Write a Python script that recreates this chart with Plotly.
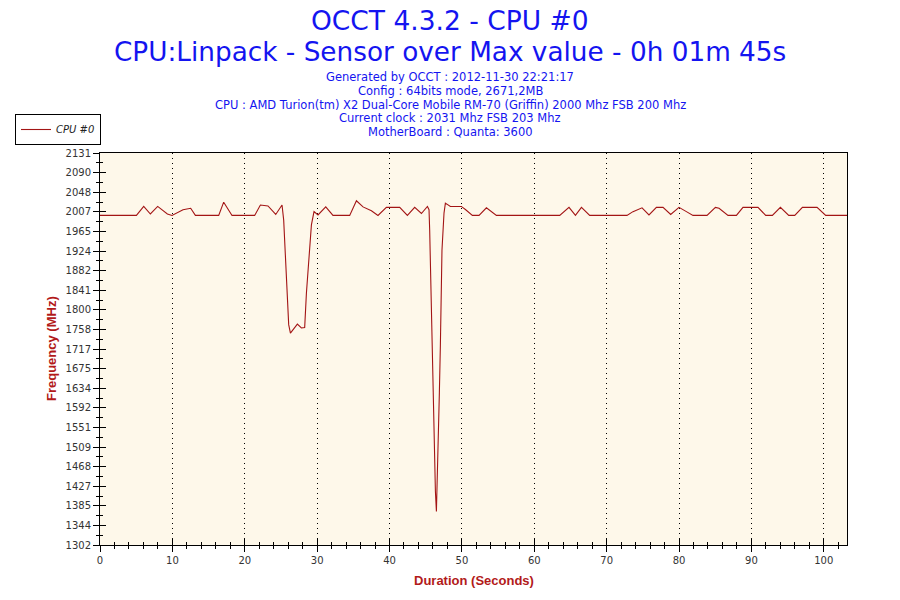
import numpy as np
import plotly.graph_objects as go

# ---- data ----
time_s = [0, 5.03, 6.04, 6.96, 7.97, 9.31, 9.95, 11.47, 12.53, 13.18, 16.40, 17.09, 18.24,
          21.37, 22.16, 23.21, 24.28, 25.15, 25.38, 25.62, 25.84, 26.07, 26.31, 27.27, 27.83,
          28.28, 28.52, 28.88, 29.21, 29.57, 30.12, 31.19, 32.19, 34.50, 35.43, 36.34, 37.50,
          38.41, 39.57, 41.41, 42.47, 43.48, 44.41, 45.24, 45.46, 45.55, 45.69, 45.87, 46.01,
          46.15, 46.34, 46.48, 46.62, 46.76, 46.89, 47.03, 47.25, 47.53, 47.72, 48.41, 49.93,
          50.53, 51.45, 52.37, 53.39, 54.77, 63.52, 64.80, 65.69, 66.52, 67.66, 72.81, 73.64,
          74.89, 75.85, 76.88, 77.79, 78.85, 80.00, 81.02, 81.93, 83.87, 85.03, 85.53, 86.77,
          87.93, 88.84, 90.91, 91.98, 92.90, 94.01, 95.16, 95.99, 97.05, 99.07, 100.27, 103.21]
cpu0_mhz = [1999, 1999, 2018, 2002, 2018, 2002, 1999, 2011, 2014, 1999, 1999, 2027, 1999,
            1999, 2021, 2019, 2001, 2021, 1989, 1919, 1838, 1768, 1750, 1769, 1761,
            1762, 1835, 1912, 1979, 2007, 2000, 2017, 1999, 1999, 2030, 2017, 2009,
            1999, 2016, 2016, 1999, 2016, 2003, 2018, 2011, 1968, 1873, 1683, 1592,
            1498, 1416, 1373, 1445, 1533, 1624, 1726, 1926, 2004, 2025, 2018, 2018,
            2011, 1999, 1999, 2015, 1999, 1999, 2016, 1999, 2016, 1999, 1999, 2007,
            2015, 2000, 2016, 2016, 2001, 2016, 2007, 1999, 1999, 2016, 2014, 1999,
            1999, 2016, 2016, 1999, 1999, 2016, 1999, 1999, 2016, 2016, 1999, 1999]

y_tick_labels = ["1302", "1344", "1385", "1427", "1468", "1509", "1551", "1592", "1634",
                 "1675", "1717", "1758", "1800", "1841", "1882", "1924", "1965", "2007",
                 "2048", "2090", "2131"]
x_tick_vals = [0, 10, 20, 30, 40, 50, 60, 70, 80, 90, 100]
x_range = [0, 103.21]
y_range = [1302, 2131]

title1 = "OCCT 4.3.2 - CPU #0"
title2 = "CPU:Linpack - Sensor over Max value - 0h 01m 45s"
info_lines = ["Generated by OCCT : 2012-11-30 22:21:17",
              "Config : 64bits mode, 2671,2MB",
              "CPU : AMD Turion(tm) X2 Dual-Core Mobile RM-70 (Griffin) 2000 Mhz FSB 200 Mhz",
              "Current clock : 2031 Mhz FSB 203 Mhz",
              "MotherBoard : Quanta: 3600"]
x_title = "Duration (Seconds)"
y_title = "Frequency (MHz)"

# ---- layout geometry ----
W, H = 900, 600
L, R, T, B = 100, 53, 153, 55
PW, PH = W - L - R, H - T - B


def ax(px):
    return (px - L) / PW


def ay(py):
    return (H - B - py) / PH


y_major = np.linspace(y_range[0], y_range[1], len(y_tick_labels))
y_minor = np.linspace(y_range[0], y_range[1], 2 * len(y_tick_labels) - 1)

LINE = "#A31515"
BLUE = "#1414F0"
RED = "#B21A1A"

fig = go.Figure()
fig.add_trace(go.Scatter(x=time_s, y=cpu0_mhz, mode="lines", name="CPU #0",
                         line=dict(color=LINE, width=1.1), hoverinfo="x+y"))
# invisible copy on overlay axes so the inward half of the ticks is drawn
fig.add_trace(go.Scatter(x=time_s, y=cpu0_mhz, mode="lines", xaxis="x2", yaxis="y2",
                         line=dict(color="rgba(0,0,0,0)", width=0), showlegend=False,
                         hoverinfo="skip"))

tickfont = dict(family="DejaVu Sans", size=10, color="#333333")

fig.update_layout(
    width=W, height=H,
    margin=dict(l=L, r=R, t=T, b=B, pad=0, autoexpand=False),
    paper_bgcolor="white",
    plot_bgcolor="#FEF8EA",
    showlegend=True,
    legend=dict(xref="container", yref="container", x=15 / W, y=1 - 114 / H,
                xanchor="left", yanchor="top", bgcolor="white",
                bordercolor="black", borderwidth=1,
                font=dict(family="DejaVu Sans", size=10, color="#222222", style="italic"),
                itemwidth=30, tracegroupgap=0),
    xaxis=dict(range=x_range, tickmode="array", tickvals=x_tick_vals,
               ticks="outside", ticklen=6, tickwidth=1, tickcolor="black",
               minor=dict(dtick=2, tick0=0, ticks="outside", ticklen=3, tickcolor="black",
                          showgrid=False),
               showline=True, linecolor="black", linewidth=1, mirror=True,
               showgrid=True, gridcolor="black", gridwidth=1, griddash="1px,4px",
               zeroline=False, tickfont=tickfont),
    yaxis=dict(range=y_range, tickmode="array", tickvals=y_major, ticktext=y_tick_labels,
               ticks="outside", ticklen=6, tickwidth=1, tickcolor="black",
               minor=dict(tickmode="array", tickvals=y_minor, ticks="outside", ticklen=3,
                          tickcolor="black", showgrid=False),
               showline=True, linecolor="black", linewidth=1, mirror=True,
               showgrid=False, zeroline=False, tickfont=tickfont),
    xaxis2=dict(overlaying="x", matches="x", anchor="y2", side="bottom",
                tickmode="array", tickvals=x_tick_vals,
                ticks="inside", ticklen=6, tickwidth=1, tickcolor="black",
                minor=dict(dtick=2, tick0=0, ticks="inside", ticklen=3, tickcolor="black",
                           showgrid=False),
                showticklabels=False, showgrid=False, showline=False, zeroline=False),
    yaxis2=dict(overlaying="y", matches="y", anchor="x2", side="left",
                tickmode="array", tickvals=y_major,
                ticks="inside", ticklen=6, tickwidth=1, tickcolor="black",
                minor=dict(tickmode="array", tickvals=y_minor, ticks="inside", ticklen=3,
                           tickcolor="black", showgrid=False),
                showticklabels=False, showgrid=False, showline=False, zeroline=False),
)

cx = ax(450)
annotations = [
    dict(text=title1, x=cx, y=ay(21), font=dict(family="DejaVu Sans", size=26.5, color=BLUE)),
    dict(text=title2, x=cx, y=ay(52), font=dict(family="DejaVu Sans", size=26.3, color=BLUE)),
]
for i, line in enumerate(info_lines):
    annotations.append(dict(text=line, x=cx, y=ay(77 + 13.8 * i),
                            font=dict(family="DejaVu Sans", size=11.5, color=BLUE)))
axis_font = dict(family="Liberation Sans", size=13, color=RED, weight="bold")
annotations.append(dict(text=x_title, x=0.5, y=ay(580), font=axis_font))
annotations.append(dict(text=y_title, x=ax(51), y=0.5, textangle=-90, font=axis_font))
for a in annotations:
    a.update(xref="paper", yref="paper", xanchor="center", yanchor="middle",
             showarrow=False)
fig.update_layout(annotations=annotations)

fig.write_html("out.html", config={"displayModeBar": False},
               post_script="document.body.style.margin='0px';")
